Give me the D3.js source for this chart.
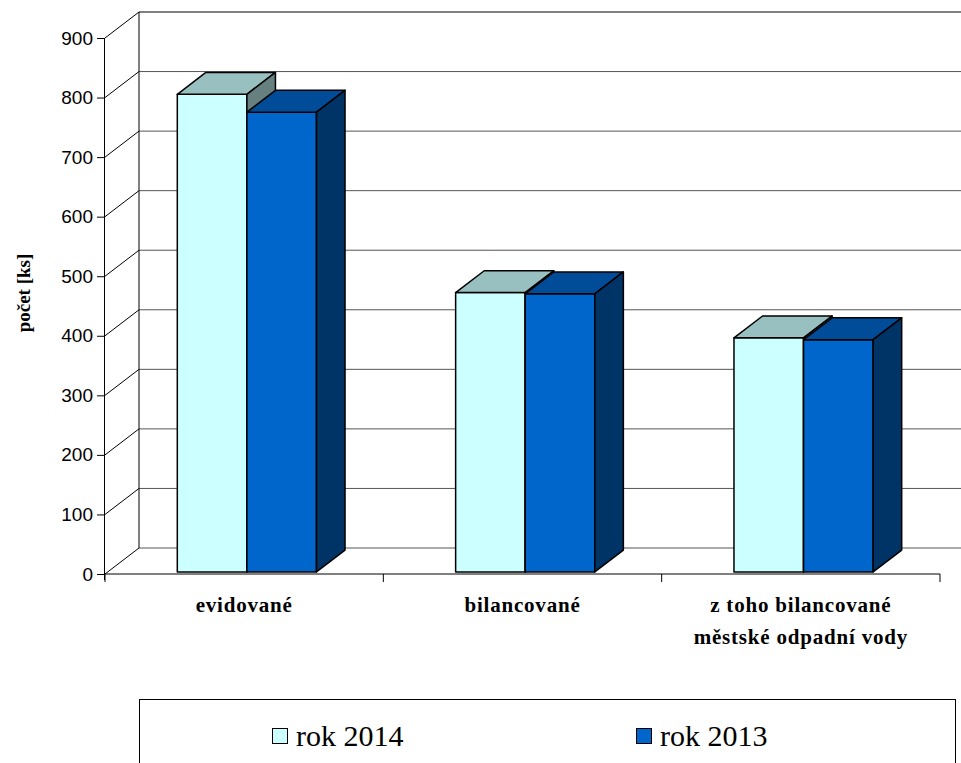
<!DOCTYPE html>
<html><head><meta charset="utf-8">
<script src="https://cdn.jsdelivr.net/npm/d3@7"></script>
<style>
body{margin:0;background:#fff;}svg{display:block;}
.serif{font-family:"Liberation Serif","Times New Roman","DejaVu Serif",serif;}
.sans{font-family:"Liberation Sans",Arial,sans-serif;}
</style>
</head><body>
<script>
const categories = ["evidované", "bilancované", "z toho bilancované|městské odpadní vody"];
const seriesNames = ["rok 2014", "rok 2013"];
const values2014 = [802, 469, 393];
const values2013 = [772, 467, 390];
const yTicks = [0, 100, 200, 300, 400, 500, 600, 700, 800, 900];

const colors = {
  "rok 2014": {front: "#CCFFFF", top: "#99C0C0", side: "#668080"},
  "rok 2013": {front: "#0066CC", top: "#004C99", side: "#003366"}
};

const W = 961, H = 763;
const svg = d3.select("body").append("svg").attr("width", W).attr("height", H);

const y = d3.scaleLinear().domain([0, 900]).range([574, 38]);
const x0 = d3.scaleBand().domain(categories).range([105, 940]).paddingInner(0).paddingOuter(0);
const x1 = d3.scaleBand().domain(seriesNames).range([0, x0.bandwidth()]).paddingInner(0).paddingOuter(1);

const DX = 34, DY = -26;       // wall depth
const F0 = 0.08, F1 = 0.92;    // bar depth fractions

const g = svg.append("g");

// back wall gridlines
g.selectAll("line.grid").data(yTicks).join("line")
  .attr("x1", 105 + DX).attr("x2", 940 + DX)
  .attr("y1", d => y(d) + DY).attr("y2", d => y(d) + DY)
  .attr("stroke", d => d === 900 ? "#000" : "#555").attr("stroke-width", 1);
// side wall diagonals
g.selectAll("line.diag").data(yTicks).join("line")
  .attr("x1", 105).attr("x2", 105 + DX)
  .attr("y1", d => y(d)).attr("y2", d => y(d) + DY)
  .attr("stroke", "#000").attr("stroke-width", 1);
// back wall left vertical
g.append("line").attr("x1", 105 + DX).attr("x2", 105 + DX)
  .attr("y1", y(0) + DY).attr("y2", y(900) + DY).attr("stroke", "#000");

// y axis
const yAxis = d3.axisLeft(y).tickValues(yTicks).tickSize(8).tickPadding(4);
const ya = svg.append("g").attr("transform", "translate(105,0)").call(yAxis);
ya.attr("font-family", null).attr("font-size", null).attr("class", "sans");
ya.select(".domain").attr("d", `M-0.5,${y(900)}V${y(0) + 6}`).attr("stroke", "#000");
ya.selectAll(".tick line").attr("stroke", "#000");
ya.selectAll(".tick text").attr("font-size", 19).attr("fill", "#000");

// x axis
const xa = svg.append("g").attr("transform", `translate(0,${y(0)})`);
xa.append("line").attr("x1", 105).attr("x2", 940).attr("y1", 0).attr("y2", 0).attr("stroke", "#000");
const bounds = categories.map(c => x0(c)).concat([x0(categories[categories.length - 1]) + x0.bandwidth()]);
xa.selectAll("line.t").data(bounds).join("line")
  .attr("x1", d => d).attr("x2", d => d).attr("y1", 0).attr("y2", 8).attr("stroke", "#000");

// category labels
const cl = svg.append("g");
categories.forEach(c => {
  const lines = c.split("|");
  const cx = x0(c) + x0.bandwidth() / 2;
  const t = cl.append("text").attr("class", "serif").attr("x", cx).attr("y", 612)
    .attr("text-anchor", "middle")
    .attr("font-weight", "bold").attr("font-size", 21).attr("letter-spacing", 0.8);
  lines.forEach((l, i) => t.append("tspan").attr("x", cx).attr("dy", i === 0 ? 0 : 32).text(l));
});

// y title
svg.append("text").attr("class", "serif").attr("transform", "translate(30,293) rotate(-90)")
  .attr("text-anchor", "middle")
  .attr("font-weight", "bold").attr("font-size", 19).text("počet [ks]");

// bars
const data = [];
categories.forEach((c, i) => {
  data.push({cat: c, s: "rok 2014", v: values2014[i]});
  data.push({cat: c, s: "rok 2013", v: values2013[i]});
});
const bx = DX * F0, by = DY * F0, ex = DX * F1, ey = DY * F1;
const bars = svg.append("g");
data.forEach(d => {
  const xl = x0(d.cat) + x1(d.s), xr = xl + x1.bandwidth();
  const yt = y(d.v), yb = y(0);
  const col = colors[d.s];
  const gg = bars.append("g").attr("stroke", "#000").attr("stroke-width", 1.5).attr("stroke-linejoin", "round");
  gg.append("path").attr("fill", col.front)
    .attr("d", `M${xl + bx},${yb + by}L${xr + bx},${yb + by}L${xr + bx},${yt + by}L${xl + bx},${yt + by}Z`);
  gg.append("path").attr("fill", col.top)
    .attr("d", `M${xl + bx},${yt + by}L${xr + bx},${yt + by}L${xr + ex},${yt + ey}L${xl + ex},${yt + ey}Z`);
  gg.append("path").attr("fill", col.side)
    .attr("d", `M${xr + bx},${yb + by}L${xr + ex},${yb + ey}L${xr + ex},${yt + ey}L${xr + bx},${yt + by}Z`);
});

// legend
const lg = svg.append("g");
lg.append("rect").attr("x", 139.5).attr("y", 699.5).attr("width", 816).attr("height", 100)
  .attr("fill", "#fff").attr("stroke", "#000").attr("stroke-width", 1);
const legendX = [272, 636];
seriesNames.forEach((s, i) => {
  lg.append("rect").attr("x", legendX[i] + 0.5).attr("y", 728.5).attr("width", 15).attr("height", 15)
    .attr("fill", colors[s].front).attr("stroke", "#000").attr("stroke-width", 1);
  lg.append("text").attr("class", "serif").attr("x", legendX[i] + 24).attr("y", 746)
    .attr("font-size", 30).attr("fill", "#000").text(s);
});
</script>
</body></html>
